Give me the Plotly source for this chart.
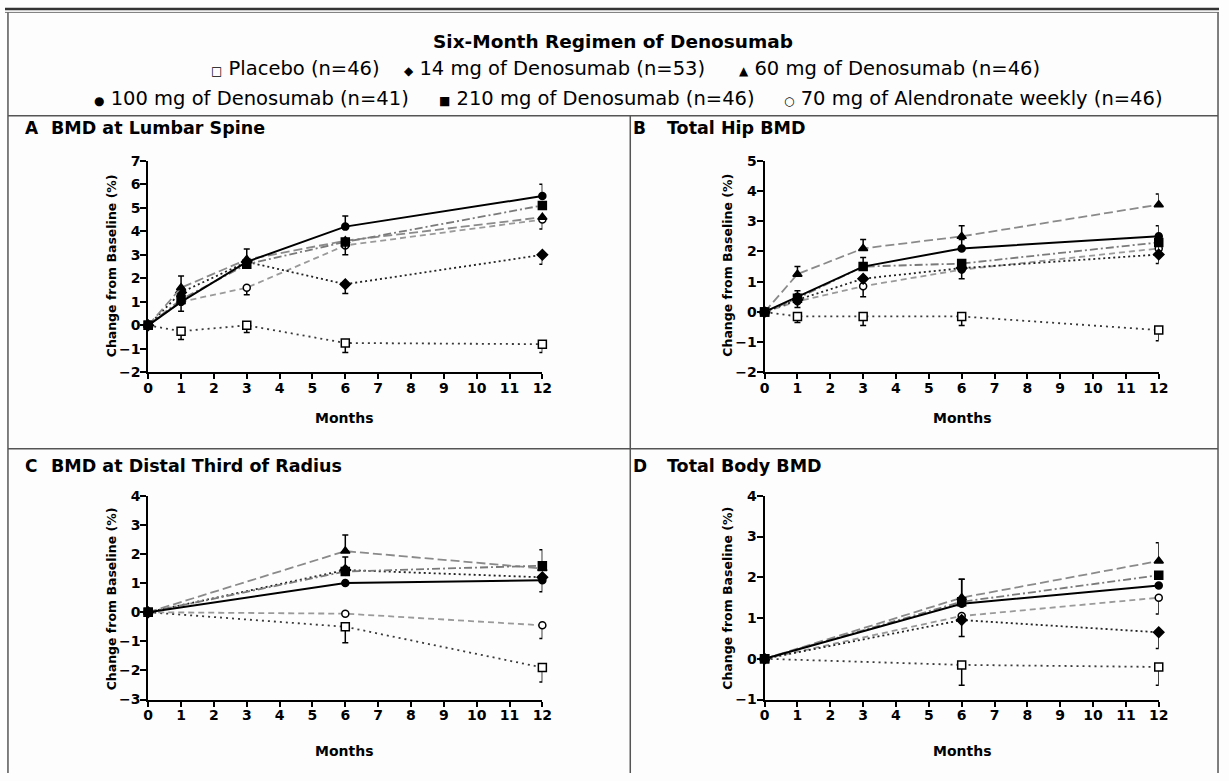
import plotly.graph_objects as go

W, H = 1229, 781

# ---------------- data ----------------
SERIES = ["placebo", "d14", "d60", "d100", "d210", "aln"]
LEGEND_LABELS = {
    "placebo": "Placebo (n=46)",
    "d14": "14 mg of Denosumab (n=53)",
    "d60": "60 mg of Denosumab (n=46)",
    "d100": "100 mg of Denosumab (n=41)",
    "d210": "210 mg of Denosumab (n=46)",
    "aln": "70 mg of Alendronate weekly (n=46)",
}
LEGEND_GLYPHS = {"placebo": "□", "d14": "◆", "d60": "▲", "d100": "●", "d210": "■", "aln": "○"}
LEGEND_ROWS = [["placebo", "d14", "d60"], ["d100", "d210", "aln"]]

MONTHS_AB = [0, 1, 3, 6, 12]
MONTHS_CD = [0, 6, 12]
MONTH_TICKS = list(range(0, 13))

# Panel A: lumbar spine
spine_mean = {
    "placebo": [0, -0.25, 0.0, -0.75, -0.8],
    "d14": [0, 1.4, 2.7, 1.75, 3.0],
    "d60": [0, 1.6, 2.8, 3.6, 4.6],
    "d100": [0, 1.0, 2.7, 4.2, 5.5],
    "d210": [0, 1.1, 2.6, 3.55, 5.1],
    "aln": [0, 1.0, 1.6, 3.4, 4.5],
}
spine_up = {
    "placebo": [0, 0, 0, 0, 0],
    "d14": [0, 0, 0, 0, 0],
    "d60": [0, 0.5, 0.45, 0, 0],
    "d100": [0, 0, 0, 0.45, 0.5],
    "d210": [0, 0, 0, 0, 0],
    "aln": [0, 0, 0, 0, 0],
}
spine_dn = {
    "placebo": [0, 0.35, 0.3, 0.4, 0.35],
    "d14": [0, 0, 0, 0.4, 0.4],
    "d60": [0, 0, 0, 0, 0],
    "d100": [0, 0, 0, 0, 0],
    "d210": [0, 0.5, 0, 0.55, 0],
    "aln": [0, 0, 0.3, 0, 0.4],
}

# Panel B: total hip
hip_mean = {
    "placebo": [0, -0.15, -0.15, -0.15, -0.6],
    "d14": [0, 0.4, 1.1, 1.45, 1.9],
    "d60": [0, 1.25, 2.1, 2.5, 3.55],
    "d100": [0, 0.5, 1.5, 2.1, 2.5],
    "d210": [0, 0.45, 1.5, 1.6, 2.3],
    "aln": [0, 0.35, 0.85, 1.4, 2.1],
}
hip_up = {
    "placebo": [0, 0, 0, 0, 0],
    "d14": [0, 0, 0, 0, 0],
    "d60": [0, 0.25, 0.3, 0.35, 0.35],
    "d100": [0, 0.2, 0.3, 0.3, 0.35],
    "d210": [0, 0, 0, 0, 0],
    "aln": [0, 0, 0, 0, 0],
}
hip_dn = {
    "placebo": [0, 0.2, 0.3, 0.3, 0.35],
    "d14": [0, 0, 0, 0.35, 0.3],
    "d60": [0, 0, 0, 0, 0],
    "d100": [0, 0, 0, 0, 0],
    "d210": [0, 0.3, 0, 0, 0.35],
    "aln": [0, 0, 0.35, 0, 0],
}

# Panel C: distal third of radius
radius_mean = {
    "placebo": [0, -0.5, -1.9],
    "d14": [0, 1.45, 1.2],
    "d60": [0, 2.1, 1.5],
    "d100": [0, 1.0, 1.1],
    "d210": [0, 1.4, 1.6],
    "aln": [0, -0.05, -0.45],
}
radius_up = {
    "placebo": [0, 0, 0],
    "d14": [0, 0, 0],
    "d60": [0, 0.55, 0],
    "d100": [0, 0, 0],
    "d210": [0, 0.5, 0.55],
    "aln": [0, 0, 0],
}
radius_dn = {
    "placebo": [0, 0.55, 0.5],
    "d14": [0, 0, 0],
    "d60": [0, 0, 0],
    "d100": [0, 0, 0.4],
    "d210": [0, 0, 0],
    "aln": [0, 0, 0.45],
}

# Panel D: total body
body_mean = {
    "placebo": [0, -0.15, -0.2],
    "d14": [0, 0.95, 0.65],
    "d60": [0, 1.5, 2.4],
    "d100": [0, 1.35, 1.8],
    "d210": [0, 1.4, 2.05],
    "aln": [0, 1.05, 1.5],
}
body_up = {
    "placebo": [0, 0, 0],
    "d14": [0, 0, 0],
    "d60": [0, 0.45, 0.45],
    "d100": [0, 0.6, 0],
    "d210": [0, 0, 0],
    "aln": [0, 0, 0],
}
body_dn = {
    "placebo": [0, 0.5, 0.45],
    "d14": [0, 0, 0.4],
    "d60": [0, 0, 0],
    "d100": [0, 0, 0],
    "d210": [0, 0, 0],
    "aln": [0, 0.5, 0.4],
}

PANELS = [
    dict(letter="A", title="BMD at Lumbar Spine", x=MONTHS_AB, mean=spine_mean, up=spine_up, dn=spine_dn, yrange=[-2, 7]),
    dict(letter="B", title="Total Hip BMD", x=MONTHS_AB, mean=hip_mean, up=hip_up, dn=hip_dn, yrange=[-2, 5]),
    dict(letter="C", title="BMD at Distal Third of Radius", x=MONTHS_CD, mean=radius_mean, up=radius_up, dn=radius_dn, yrange=[-3, 4]),
    dict(letter="D", title="Total Body BMD", x=MONTHS_CD, mean=body_mean, up=body_up, dn=body_dn, yrange=[-1, 4]),
]

# ---------------- styles ----------------
STYLE = {
    "placebo": dict(symbol="square", fill="white", color="#3a3a3a", dash="2px,4px", width=1.8, size=8),
    "d14": dict(symbol="diamond", fill="black", color="#222222", dash="2px,3px", width=1.8, size=8),
    "d60": dict(symbol="triangle-up", fill="black", color="#8a8a8a", dash="9px,4px", width=1.8, size=8),
    "d100": dict(symbol="circle", fill="black", color="black", dash="solid", width=2.0, size=7),
    "d210": dict(symbol="square", fill="black", color="#7a7a7a", dash="8px,3px,2px,3px", width=1.8, size=8),
    "aln": dict(symbol="circle", fill="white", color="#9a9a9a", dash="6px,4px", width=1.8, size=7),
}
DRAW_ORDER = ["placebo", "aln", "d14", "d60", "d210", "d100"]

# pixel geometry of the panels (left, right, top, bottom)
BOXES = [(145, 544, 156, 372), (769, 1168, 156, 372), (145, 544, 498, 706), (769, 1168, 498, 706)]
YTITLE = [(108, 263), (732, 263), (108, 603), (732, 603)]
TITLE_POS = [(18, 45, 123), (634, 668, 123), (18, 45, 468), (634, 668, 468)]
MONTHS_POS = [(344, 419), (969, 419), (344, 759), (969, 759)]


def fx(p):
    return p / W


def fy(p):
    return 1 - p / H


TICK_FONT = dict(family="DejaVu Sans", size=14, color="black", weight="bold")
LABEL_FONT = dict(family="DejaVu Sans", size=12.5, color="black", weight="bold")
MONTHS_FONT = dict(family="DejaVu Sans", size=14, color="black", weight="bold")

fig = go.Figure()
layout = dict()
annotations = []

for i, (panel, box) in enumerate(zip(PANELS, BOXES)):
    n = "" if i == 0 else str(i + 1)
    xa, ya = "x" + n, "y" + n
    l, r, t, b = box
    layout["xaxis" + n] = dict(
        domain=[fx(l), fx(r)], range=[0, 12], anchor=ya,
        tickmode="array", tickvals=MONTH_TICKS, ticks="outside", ticklen=5, tickwidth=1.6,
        tickcolor="black", showline=True, linecolor="black", linewidth=2, showgrid=False,
        zeroline=False, tickfont=TICK_FONT, fixedrange=True, ticklabelstandoff=-3,
    )
    lo, hi = panel["yrange"]
    layout["yaxis" + n] = dict(
        domain=[fy(b), fy(t)], range=[lo, hi], anchor=xa,
        tickmode="array", tickvals=list(range(lo, hi + 1)), ticks="outside", ticklen=6, tickwidth=1.6,
        tickcolor="black", showline=True, linecolor="black", linewidth=2, showgrid=False,
        zeroline=False, tickfont=TICK_FONT, fixedrange=True, ticklabelstandoff=-3,
    )
    for key in DRAW_ORDER:
        s = STYLE[key]
        fig.add_trace(go.Scatter(
            x=panel["x"], y=panel["mean"][key], xaxis=xa, yaxis=ya, mode="lines+markers",
            name=LEGEND_LABELS[key], showlegend=False, cliponaxis=False,
            line=dict(color=s["color"], width=s["width"], dash=s["dash"]),
            marker=dict(symbol=s["symbol"], size=s["size"], color=s["fill"], line=dict(color="black", width=1.5)),
            error_y=dict(type="data", symmetric=False, array=panel["up"][key], arrayminus=panel["dn"][key],
                         color="black", thickness=1.5, width=3),
        ))
    # panel title
    lx, tx, ty = TITLE_POS[i]
    annotations.append(dict(x=fx(lx), y=fy(ty), xref="paper", yref="paper", xanchor="left",
                            yanchor="middle", showarrow=False, text="<b>%s</b>" % panel["letter"],
                            font=dict(family="DejaVu Sans", size=17, color="black")))
    annotations.append(dict(x=fx(tx), y=fy(ty), xref="paper", yref="paper", xanchor="left",
                            yanchor="middle", showarrow=False, text="<b>%s</b>" % panel["title"],
                            font=dict(family="DejaVu Sans", size=17.5, color="black")))
    # y title
    yx, yy = YTITLE[i]
    annotations.append(dict(x=fx(yx), y=fy(yy), xref="paper", yref="paper", xanchor="center",
                            yanchor="middle", showarrow=False, text="Change from Baseline (%)", textangle=-90,
                            font=LABEL_FONT))
    # x title
    mx, my = MONTHS_POS[i]
    annotations.append(dict(x=fx(mx), y=fy(my), xref="paper", yref="paper", xanchor="center",
                            yanchor="middle", showarrow=False, text="Months", font=MONTHS_FONT))

# legend block
annotations.append(dict(x=fx(616), y=fy(34), xref="paper", yref="paper", xanchor="center", yanchor="middle",
                        showarrow=False, text="Six-Month Regimen of Denosumab",
                        font=dict(family="DejaVu Sans", size=18.5, color="black", weight="bold")))
LEGEND_X = [[207, 402, 741], [88, 437, 787]]
LEGEND_Y = [62, 92]
for row, xs, yy in zip(LEGEND_ROWS, LEGEND_X, LEGEND_Y):
    for key, xx in zip(row, xs):
        annotations.append(dict(
            x=fx(xx), y=fy(yy), xref="paper", yref="paper", xanchor="left", yanchor="middle", showarrow=False,
            text='<span style="font-size:12px">%s</span> %s' % (LEGEND_GLYPHS[key], LEGEND_LABELS[key]),
            font=dict(family="DejaVu Sans", size=19.5, color="black")))

# frame lines
shapes = []
def hline(yp, x0, x1, w=1.5, c="#555555"):
    shapes.append(dict(type="line", xref="paper", yref="paper", x0=fx(x0), x1=fx(x1), y0=fy(yp), y1=fy(yp),
                       line=dict(color=c, width=w)))
def vline(xp, y0, y1, w=1.5, c="#555555"):
    shapes.append(dict(type="line", xref="paper", yref="paper", x0=fx(xp), x1=fx(xp), y0=fy(y0), y1=fy(y1),
                       line=dict(color=c, width=w)))

hline(1, 0, W, w=2.5, c="#333333")
hline(4.5, 0, W, w=1, c="#777777")
vline(3, 4.5, H)
vline(1228, 4.5, H)
hline(110, 3, 1228)
hline(450, 3, 1228)
vline(633, 110, H)

fig.update_layout(
    width=W, height=H, margin=dict(l=0, r=0, t=0, b=0),
    paper_bgcolor="#fdfdfd", plot_bgcolor="#fdfdfd",
    showlegend=False, annotations=annotations, shapes=shapes, **layout,
)

fig.write_html("out.html", config={"displayModeBar": False},
               post_script="document.body.style.margin='0';document.body.style.overflow='hidden';")
